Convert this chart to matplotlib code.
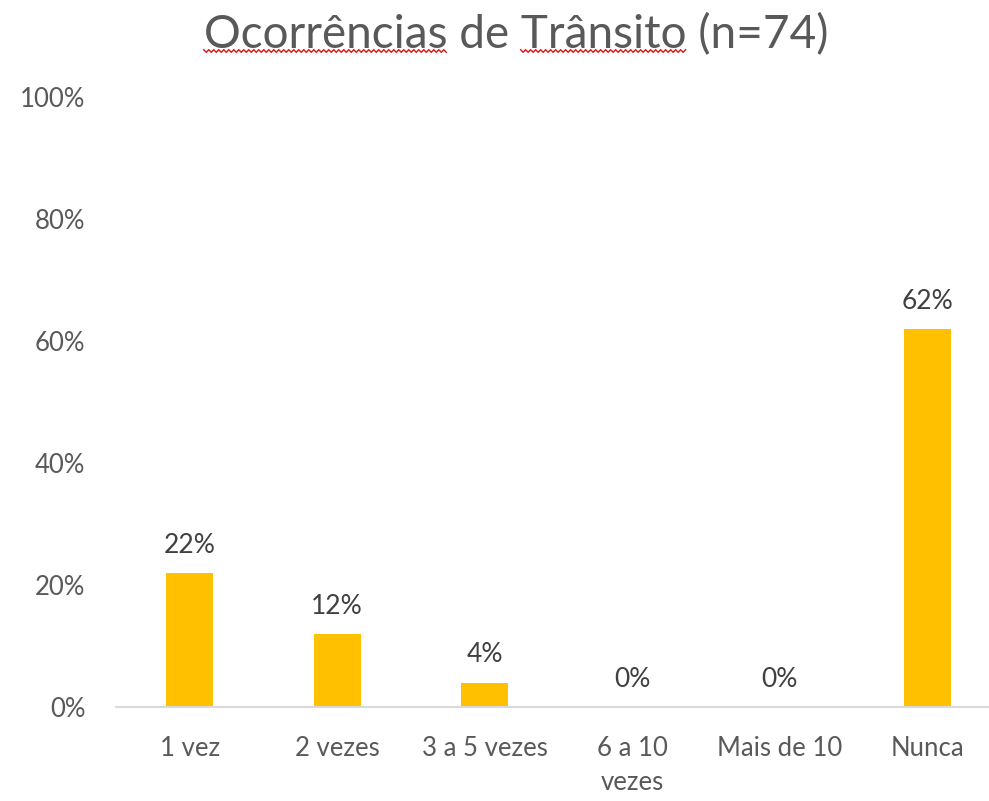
import matplotlib
matplotlib.use("Agg")
import matplotlib.pyplot as plt
import numpy as np
from matplotlib.ticker import PercentFormatter
from matplotlib.lines import Line2D

categories = ["1 vez", "2 vezes", "3 a 5 vezes", "6 a 10\nvezes", "Mais de 10", "Nunca"]
values = [22, 12, 4, 0, 0, 62]
yticks = [0, 20, 40, 60, 80, 100]
title = "Ocorrências de Trânsito (n=74)"
misspelled = ["Ocorrências", "Trânsito"]

plt.rcParams['font.family'] = ['Lato', 'DejaVu Sans']

W, H = 989, 801
fig = plt.figure(figsize=(W / 100, H / 100), dpi=100)
ax = fig.add_axes([116/W, 94/H, 885/W, 610/H])

x = range(len(categories))
ax.bar(x, values, width=0.32, color="#FFC000", zorder=2)
for xi, v in zip(x, values):
    ax.text(xi, v + 2.5, f"{v}%", ha="center", va="bottom", fontsize=19, color="#404040")

ax.set_xlim(-0.5, len(categories) - 0.5)
ax.set_ylim(0, 100)
ax.set_yticks(yticks)
ax.yaxis.set_major_formatter(PercentFormatter(decimals=0))
ax.set_xticks(list(x))
ax.set_xticklabels(categories, linespacing=1.45)
ax.tick_params(axis="both", length=0, labelsize=18.5, colors="#595959")
ax.tick_params(axis="x", pad=21)
ax.tick_params(axis="y", pad=22)
for s in ["top", "right", "left"]:
    ax.spines[s].set_visible(False)
ax.spines["bottom"].set_color("#D9D9D9")
ax.spines["bottom"].set_linewidth(1.5)

tx, ty = 516, 35
t = fig.text(tx / W, 1 - ty / H, title, ha="center", va="center", fontsize=33, color="#595959")

# spell-check style red wavy underline under flagged words
fig.canvas.draw()
r = fig.canvas.get_renderer()
bb = t.get_window_extent(r)
def width_of(s):
    tmp = fig.text(0, 0, s, fontsize=33)
    w = tmp.get_window_extent(r).width
    tmp.remove()
    return w
for word in misspelled:
    i = title.index(word)
    x0 = bb.x0 + width_of(title[:i]) if i > 0 else bb.x0
    x1 = bb.x0 + width_of(title[:i + len(word)])
    xs = np.arange(x0, x1 + 0.1, 2.5)
    yb = H - 51
    ys = yb + np.where(np.arange(len(xs)) % 2 == 0, 1.3, -1.3)
    fig.add_artist(Line2D(xs / W, ys / H, color="#E01010", lw=1.0, transform=fig.transFigure))

fig.savefig("out.png", dpi=100)
